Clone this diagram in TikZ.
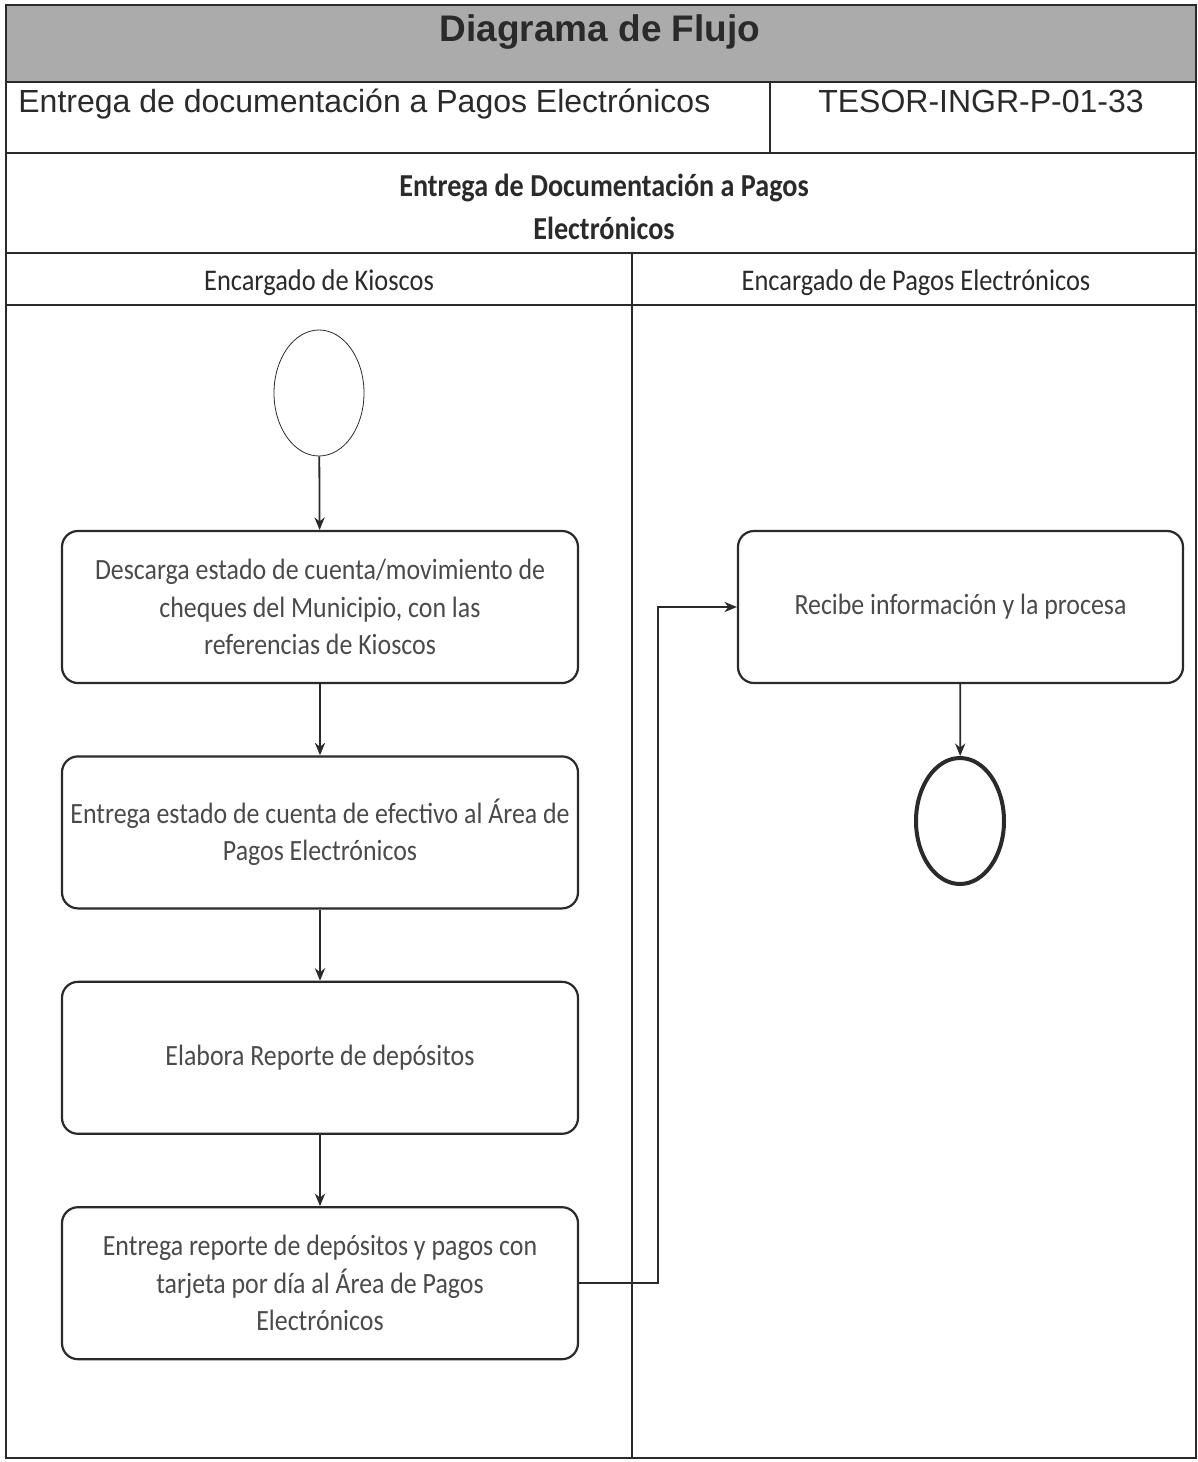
\documentclass[tikz,border=0pt]{standalone}
\usepackage{fontspec}
\setmainfont{Liberation Sans}
\newfontfamily\lanefont[FakeStretch=0.88]{Carlito}
\usetikzlibrary{arrows.meta,positioning,shapes.geometric}
\definecolor{ink}{HTML}{2A2A2A}
\definecolor{softink}{HTML}{4A4A4A}
\definecolor{headgray}{HTML}{ABABAB}

\begin{document}
\begin{tikzpicture}[x=0.5pt, y=-0.5pt,
  node distance=35.6pt,
  procbox/.style={draw=ink, line width=1.1pt, rounded corners=8pt, minimum width=258pt, minimum height=76pt, align=center, inner sep=2pt, text=softink, font=\lanefont\fontsize{14.7}{18.75}\selectfont},
  endpoint/.style={draw=ink, ellipse, minimum width=45pt, minimum height=63pt, inner sep=0pt},
  lanehead/.style={anchor=base, text=ink, font=\lanefont\fontsize{15}{18}\selectfont},
  frame/.style={draw=ink, line width=1.2pt},
  arrow/.style={-{Stealth[length=2.2mm, width=1.8mm]}, draw=ink, line width=0.9pt}
]
\useasboundingbox (0,0) rectangle (1198,1462);

% table frame
\fill[headgray] (6,5) rectangle (1196,82);
\draw[frame] (6,5) rectangle (1196,1458);
\draw[frame] (6,82) -- (1196,82);
\draw[frame] (6,153) -- (1196,153);
\draw[frame] (770,82) -- (770,153);
\draw[frame] (6,253) -- (1196,253);
\draw[frame] (6,305) -- (1196,305);
\draw[frame] (632,253) -- (632,1458);

% header texts
\node[anchor=base, text=ink, font=\bfseries\fontsize{18.5}{22}\selectfont] (maintitle) at (600,41) {Diagrama de Flujo};
\node[anchor=base west, inner sep=0pt, text=ink, font=\fontsize{16}{19}\selectfont] (procname) at (18,112) {Entrega de documentación a Pagos Electrónicos};
\node[anchor=base, inner sep=0pt, text=ink, font=\fontsize{16}{19}\selectfont] (proccode) at (981,112) {TESOR-INGR-P-01-33};
\node[anchor=base, align=center, text=ink, font=\lanefont\bfseries\fontsize{16}{21.5}\selectfont] (proctitle) at (604,239) {Entrega de Documentación a Pagos\\Electrónicos};
\node[lanehead] (lanekiosk) at (319,290) {Encargado de Kioscos};
\node[lanehead] (lanepay) at (916,290) {Encargado de Pagos Electrónicos};

% flow
\node[endpoint] (start) at (319,393) {};
\node[procbox] (download) at (320,607) {Descarga estado de cuenta/movimiento de\\cheques del Municipio, con las\\referencias de Kioscos};
\node[procbox, below=of download] (cashrep) {Entrega estado de cuenta de efectivo al Área de\\Pagos Electrónicos};
\node[procbox, below=of cashrep] (deprep) {Elabora Reporte de depósitos};
\node[procbox, below=of deprep] (cardrep) {Entrega reporte de depósitos y pagos con\\tarjeta por día al Área de Pagos\\Electrónicos};
\node[procbox, minimum width=222.5pt] (receive) at (960.5,607) {Recibe información y la procesa};
\node[endpoint, line width=2pt, minimum width=44pt] (finish) at (960,821) {};
\coordinate (bend) at (658,1285);

\foreach \a/\b in {start/download,download/cashrep,cashrep/deprep,deprep/cardrep,receive/finish}
  \draw[arrow] (\a) -- (\b);
\draw[arrow] (cardrep.east) -- (cardrep.east -| bend) |- (receive.west);
\end{tikzpicture}
\end{document}
